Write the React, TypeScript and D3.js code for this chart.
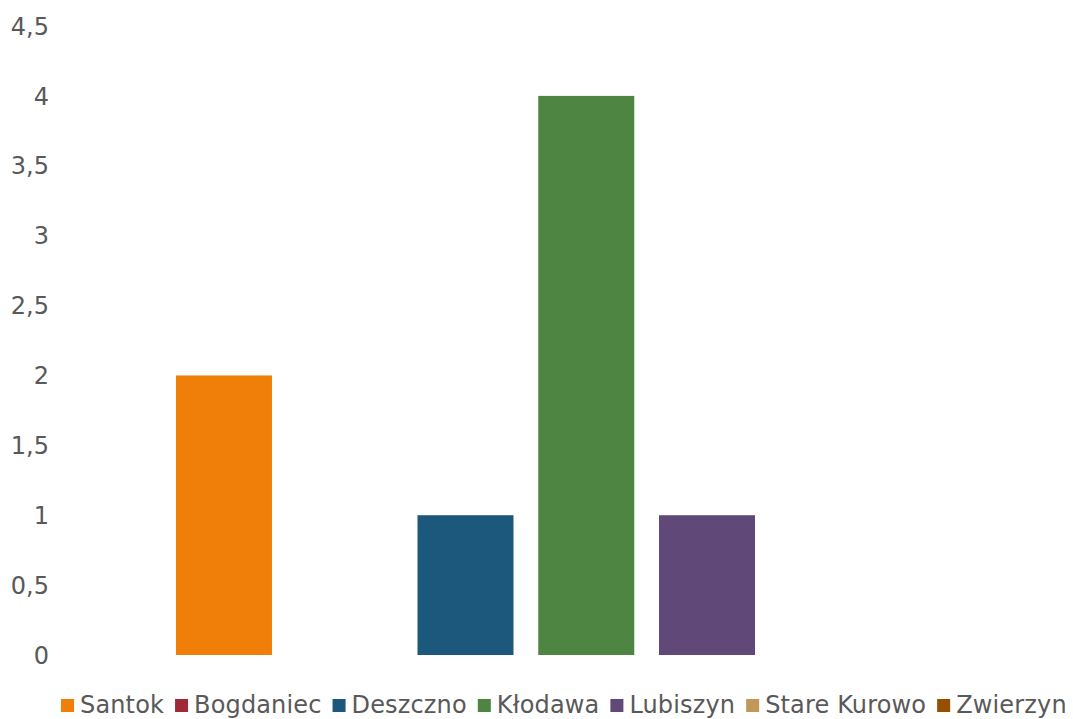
import React, { useEffect, useRef } from "react";
import * as d3 from "d3";

const categories = ["Santok", "Bogdaniec", "Deszczno", "Kłodawa", "Lubiszyn", "Stare Kurowo", "Zwierzyn"];
const values = [2, 0, 1, 4, 1, 0, 0];
const colors = ["#F07F09", "#9F2936", "#1B587C", "#4E8542", "#604878", "#C19859", "#954F00"];
const yTicks = [0, 0.5, 1, 1.5, 2, 2.5, 3, 3.5, 4, 4.5];

const W = 1073;
const H = 719;
const FONT = "'DejaVu Sans', Verdana, sans-serif";

export default function App() {
  const ref = useRef<SVGSVGElement | null>(null);

  useEffect(() => {
    const svg = d3.select(ref.current);
    svg.selectAll("*").remove();

    const y = d3.scaleLinear().domain([0, 4.5]).range([655, 26]);
    const x = d3.scaleBand<string>()
      .domain(categories)
      .range([163.6, 1008.9])
      .paddingInner(0.205)
      .paddingOuter(0.1025);

    const fmt = (v: number) => String(v).replace(".", ",");

    svg.append("g")
      .selectAll("text")
      .data(yTicks)
      .join("text")
      .attr("x", 49)
      .attr("y", (d) => y(d))
      .attr("dy", "0.36em")
      .attr("text-anchor", "end")
      .attr("font-family", FONT)
      .attr("font-size", 24)
      .attr("fill", "#595959")
      .text((d) => fmt(d));

    svg.append("g")
      .selectAll("rect")
      .data(categories)
      .join("rect")
      .attr("x", (d) => x(d)!)
      .attr("width", x.bandwidth())
      .attr("y", (_d, i) => y(values[i]))
      .attr("height", (_d, i) => y(0) - y(values[i]))
      .attr("fill", (_d, i) => colors[i]);

    const legend = svg.append("g");
    let cx = 61;
    categories.forEach((c, i) => {
      legend.append("rect")
        .attr("x", cx)
        .attr("y", 699)
        .attr("width", 13)
        .attr("height", 13)
        .attr("fill", colors[i]);
      const t = legend.append("text")
        .attr("x", cx + 19)
        .attr("y", 713)
        .attr("font-family", FONT)
        .attr("font-size", 24)
        .attr("letter-spacing", 0.15)
        .attr("fill", "#595959")
        .text(c);
      const w = (t.node() as SVGTextElement).getComputedTextLength();
      cx = cx + 19 + w + 11;
    });
  }, []);

  return (
    <svg
      ref={ref}
      width={W}
      height={H}
      style={{ position: "absolute", left: 0, top: 0, background: "#fff" }}
    />
  );
}
